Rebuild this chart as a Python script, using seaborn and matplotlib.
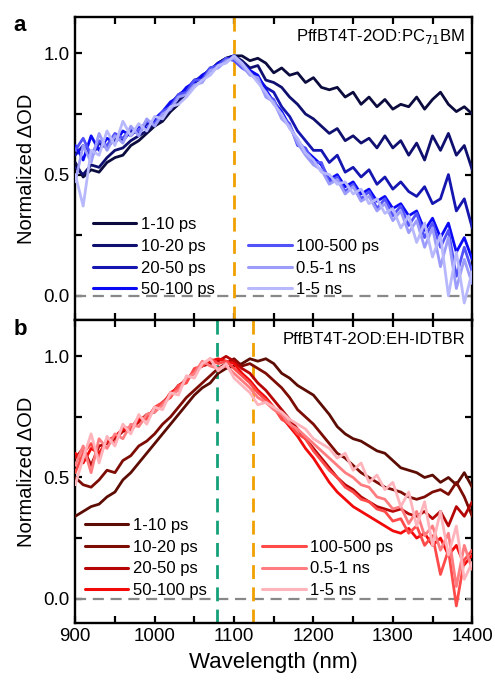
import matplotlib
matplotlib.use("Agg")
import matplotlib.pyplot as plt
from matplotlib.lines import Line2D
from matplotlib.ticker import MultipleLocator
import seaborn as sns
import pandas as pd

# -------------------------------------------------------------------
# dados (passo de 10 nm)
# -------------------------------------------------------------------
wavelength = list(range(900, 1410, 10))

delays = ["1-10 ps", "10-20 ps", "20-50 ps", "50-100 ps",
          "100-500 ps", "0.5-1 ns", "1-5 ns"]

# painel a: PffBT4T-2OD:PC71BM
a_1_10ps = [0.55, 0.49, 0.52, 0.51, 0.55, 0.57, 0.58, 0.62, 0.64, 0.67,
            0.70, 0.72, 0.76, 0.79, 0.84, 0.88, 0.90, 0.93, 0.96, 0.98,
            0.99, 0.99, 0.97, 0.98, 0.96, 0.92, 0.94, 0.91, 0.92, 0.88,
            0.90, 0.86, 0.85, 0.86, 0.82, 0.84, 0.79, 0.82, 0.78, 0.81,
            0.77, 0.79, 0.78, 0.82, 0.77, 0.81, 0.84, 0.79, 0.76, 0.78, 0.75]
a_10_20ps = [0.53, 0.50, 0.54, 0.53, 0.57, 0.60, 0.61, 0.64, 0.66, 0.68,
             0.71, 0.73, 0.77, 0.80, 0.85, 0.88, 0.91, 0.93, 0.96, 0.98,
             0.99, 0.97, 0.94, 0.95, 0.89, 0.88, 0.86, 0.82, 0.79, 0.75,
             0.73, 0.70, 0.67, 0.69, 0.64, 0.66, 0.63, 0.65, 0.61, 0.66,
             0.61, 0.64, 0.58, 0.63, 0.56, 0.66, 0.60, 0.67, 0.58, 0.62, 0.52]
a_20_50ps = [0.58, 0.62, 0.57, 0.63, 0.61, 0.65, 0.64, 0.68, 0.67, 0.71,
             0.72, 0.75, 0.79, 0.83, 0.85, 0.89, 0.90, 0.94, 0.95, 0.97,
             0.99, 0.96, 0.93, 0.90, 0.86, 0.84, 0.78, 0.74, 0.68, 0.64,
             0.60, 0.60, 0.55, 0.58, 0.51, 0.53, 0.49, 0.52, 0.46, 0.49,
             0.44, 0.47, 0.43, 0.41, 0.45, 0.38, 0.40, 0.50, 0.35, 0.40, 0.28]
a_50_100ps = [0.62, 0.56, 0.66, 0.60, 0.65, 0.63, 0.68, 0.66, 0.70, 0.69,
              0.73, 0.76, 0.80, 0.82, 0.86, 0.88, 0.91, 0.93, 0.96, 0.97,
              0.99, 0.95, 0.93, 0.91, 0.85, 0.80, 0.76, 0.70, 0.64, 0.60,
              0.57, 0.54, 0.48, 0.50, 0.45, 0.47, 0.42, 0.44, 0.39, 0.41,
              0.36, 0.38, 0.33, 0.35, 0.27, 0.32, 0.24, 0.30, 0.18, 0.24, 0.15]
a_100_500ps = [0.60, 0.65, 0.58, 0.64, 0.62, 0.67, 0.65, 0.69, 0.68, 0.72,
               0.71, 0.76, 0.78, 0.83, 0.84, 0.89, 0.89, 0.94, 0.95, 0.98,
               0.97, 0.94, 0.92, 0.89, 0.83, 0.81, 0.74, 0.71, 0.62, 0.61,
               0.55, 0.55, 0.47, 0.49, 0.43, 0.46, 0.40, 0.43, 0.36, 0.40,
               0.33, 0.37, 0.29, 0.34, 0.24, 0.30, 0.20, 0.27, 0.08, 0.20, 0.10]
a_05_1ns = [0.47, 0.62, 0.55, 0.67, 0.60, 0.66, 0.63, 0.70, 0.66, 0.73,
            0.70, 0.75, 0.77, 0.82, 0.83, 0.87, 0.88, 0.93, 0.94, 0.97,
            0.98, 0.95, 0.91, 0.90, 0.82, 0.80, 0.73, 0.70, 0.63, 0.58,
            0.54, 0.52, 0.46, 0.48, 0.42, 0.45, 0.39, 0.41, 0.35, 0.38,
            0.31, 0.35, 0.26, 0.31, 0.20, 0.28, 0.12, 0.24, 0.03, 0.15, 0.05]
a_1_5ns = [0.50, 0.37, 0.60, 0.58, 0.68, 0.62, 0.72, 0.66, 0.71, 0.68,
           0.74, 0.73, 0.78, 0.79, 0.82, 0.86, 0.89, 0.91, 0.95, 0.96,
           0.99, 0.96, 0.92, 0.88, 0.84, 0.79, 0.75, 0.69, 0.65, 0.59,
           0.56, 0.51, 0.50, 0.46, 0.47, 0.42, 0.44, 0.38, 0.40, 0.34,
           0.36, 0.28, 0.33, 0.22, 0.30, 0.16, 0.25, 0.00, 0.18, -0.03, 0.10]

# painel b: PffBT4T-2OD:EH-IDTBR
b_1_10ps = [0.34, 0.36, 0.38, 0.39, 0.42, 0.44, 0.49, 0.52, 0.56, 0.60,
            0.64, 0.68, 0.72, 0.76, 0.80, 0.84, 0.87, 0.89, 0.93, 0.95,
            0.96, 0.97, 0.99, 0.98, 0.99, 0.97, 0.93, 0.91, 0.88, 0.86,
            0.84, 0.80, 0.76, 0.71, 0.68, 0.66, 0.65, 0.63, 0.61, 0.60,
            0.57, 0.54, 0.53, 0.52, 0.50, 0.51, 0.48, 0.50, 0.47, 0.52, 0.46]
b_10_20ps = [0.50, 0.47, 0.46, 0.49, 0.53, 0.52, 0.57, 0.59, 0.63, 0.65,
             0.68, 0.72, 0.75, 0.79, 0.83, 0.86, 0.89, 0.92, 0.95, 0.97,
             0.99, 0.96, 0.97, 0.95, 0.93, 0.90, 0.87, 0.83, 0.78, 0.75,
             0.72, 0.68, 0.64, 0.60, 0.58, 0.55, 0.52, 0.50, 0.48, 0.46,
             0.45, 0.44, 0.42, 0.41, 0.42, 0.44, 0.45, 0.43, 0.48, 0.42, 0.34]
b_20_50ps = [0.58, 0.62, 0.55, 0.63, 0.64, 0.66, 0.69, 0.70, 0.73, 0.76,
             0.77, 0.81, 0.84, 0.88, 0.90, 0.94, 0.96, 0.97, 0.98, 1.00,
             0.98, 0.95, 0.93, 0.89, 0.86, 0.82, 0.78, 0.74, 0.70, 0.66,
             0.62, 0.58, 0.54, 0.50, 0.47, 0.45, 0.42, 0.40, 0.38, 0.37,
             0.36, 0.37, 0.35, 0.34, 0.36, 0.33, 0.36, 0.30, 0.38, 0.34, 0.40]
b_50_100ps = [0.60, 0.56, 0.62, 0.60, 0.65, 0.67, 0.70, 0.69, 0.74, 0.75,
              0.78, 0.80, 0.85, 0.87, 0.91, 0.93, 0.97, 0.98, 0.99, 0.98,
              0.97, 0.93, 0.90, 0.86, 0.83, 0.79, 0.75, 0.71, 0.67, 0.62,
              0.58, 0.53, 0.48, 0.44, 0.41, 0.38, 0.36, 0.34, 0.32, 0.30,
              0.28, 0.27, 0.29, 0.25, 0.27, 0.22, 0.25, 0.18, 0.22, 0.14, 0.18]
b_100_500ps = [0.52, 0.60, 0.64, 0.58, 0.66, 0.64, 0.71, 0.70, 0.75, 0.74,
               0.79, 0.81, 0.83, 0.88, 0.89, 0.95, 0.96, 0.99, 0.97, 0.98,
               0.95, 0.92, 0.89, 0.85, 0.82, 0.79, 0.74, 0.72, 0.68, 0.66,
               0.61, 0.57, 0.53, 0.50, 0.46, 0.44, 0.41, 0.40, 0.37, 0.36,
               0.32, 0.33, 0.27, 0.30, 0.22, 0.26, 0.10, 0.20, -0.03, 0.16, 0.20]
b_05_1ns = [0.55, 0.63, 0.52, 0.66, 0.62, 0.68, 0.66, 0.72, 0.71, 0.76,
            0.77, 0.80, 0.84, 0.86, 0.91, 0.93, 0.98, 0.96, 0.95, 0.96,
            0.93, 0.90, 0.87, 0.83, 0.81, 0.78, 0.76, 0.72, 0.70, 0.67,
            0.64, 0.61, 0.58, 0.55, 0.52, 0.50, 0.47, 0.46, 0.42, 0.41,
            0.37, 0.38, 0.31, 0.36, 0.26, 0.30, 0.20, 0.27, 0.05, 0.22, 0.12]
b_1_5ns = [0.47, 0.58, 0.68, 0.56, 0.67, 0.63, 0.72, 0.68, 0.76, 0.72,
           0.79, 0.78, 0.85, 0.84, 0.92, 0.91, 0.97, 0.99, 0.94, 0.97,
           0.91, 0.88, 0.85, 0.80, 0.81, 0.79, 0.77, 0.74, 0.72, 0.70,
           0.66, 0.64, 0.62, 0.58, 0.60, 0.53, 0.56, 0.48, 0.51, 0.45,
           0.48, 0.38, 0.44, 0.30, 0.40, 0.22, 0.36, 0.18, 0.30, 0.08, 0.15]

blues = ["#0b0b3e", "#0f0f70", "#1515b0", "#0a0af5", "#5252fa", "#9c9cfa", "#b8b8fd"]
reds = ["#5c0c02", "#7c0c04", "#b50505", "#f20a0a", "#ff4a4a", "#ff7c80", "#ffb4bc"]


def monta_df(series):
    linhas = []
    for nome, vals in zip(delays, series):
        for w, v in zip(wavelength, vals):
            linhas.append({"wl": w, "val": v, "delay": nome})
    return pd.DataFrame(linhas)


df_a = monta_df([a_1_10ps, a_10_20ps, a_20_50ps, a_50_100ps,
                 a_100_500ps, a_05_1ns, a_1_5ns])
df_b = monta_df([b_1_10ps, b_10_20ps, b_20_50ps, b_50_100ps,
                 b_100_500ps, b_05_1ns, b_1_5ns])

sns.set_style("ticks")
plt.rcParams["font.family"] = ["Liberation Sans", "DejaVu Sans"]
plt.rcParams["axes.linewidth"] = 1.7
for k in ["text.color", "axes.edgecolor", "axes.labelcolor", "xtick.color", "ytick.color"]:
    plt.rcParams[k] = "black"

fig, (ax1, ax2) = plt.subplots(2, 1, sharex=True, figsize=(4.95, 6.83), dpi=100)
fig.subplots_adjust(left=0.152, right=0.954, top=0.975, bottom=0.088, hspace=0)


def painel(ax, df, cores, texto, legx, legy):
    ax.axhline(0, color="#888888", lw=1.6, dashes=(5, 3), zorder=1)
    sns.lineplot(data=df, x="wl", y="val", hue="delay", hue_order=delays,
                 palette=cores, legend=False, lw=2.0, ax=ax, zorder=3)
    ax.set_xlim(900, 1400)
    ax.set_ylim(-0.1, 1.15)
    ax.xaxis.set_major_locator(MultipleLocator(100))
    ax.xaxis.set_minor_locator(MultipleLocator(50))
    ax.yaxis.set_major_locator(MultipleLocator(0.5))
    ax.yaxis.set_minor_locator(MultipleLocator(0.25))
    ax.yaxis.set_major_formatter(plt.FormatStrFormatter("%.1f"))
    ax.tick_params(which="both", direction="in", top=True, right=True,
                   width=1.6, length=5, labelsize=13.5, pad=4)
    ax.set_ylabel("Normalized ΔOD", fontsize=14.5, labelpad=5)
    ax.set_xlabel("")
    ax.text(0.982, 0.935, texto, transform=ax.transAxes, ha="right",
            va="center", fontsize=12)

    h = [Line2D([], [], color=c, lw=2.2) for c in cores]
    kw = dict(frameon=False, fontsize=12, handlelength=2.6,
              handletextpad=0.25, labelspacing=0.4, borderpad=0,
              borderaxespad=0, loc="lower left")
    leg1 = ax.legend(h[:4], delays[:4], bbox_to_anchor=(legx[0], legy), **kw)
    ax.add_artist(leg1)
    ax.legend(h[4:], delays[4:], bbox_to_anchor=(legx[1], legy), **kw)


painel(ax1, df_a, blues, "PffBT4T-2OD:PC$_{71}$BM", (0.045, 0.436), 0.075)
painel(ax2, df_b, reds, "PffBT4T-2OD:EH-IDTBR", (0.025, 0.471), 0.082)

ax1.axvline(1100, color="#f0a000", lw=2, dashes=(5, 3), zorder=2)
ax2.axvline(1078, color="#14a078", lw=2, dashes=(5, 3), zorder=2)
ax2.axvline(1124, color="#f0a000", lw=2, dashes=(5, 3), zorder=2)

ax1.tick_params(labelbottom=False)
ax2.set_xlabel("Wavelength (nm)", fontsize=16, labelpad=5)

fig.text(0.028, 0.962, "a", fontsize=16, fontweight="bold", va="center")
fig.text(0.028, 0.518, "b", fontsize=16, fontweight="bold", va="center")

plt.savefig("out.png", dpi=100)
